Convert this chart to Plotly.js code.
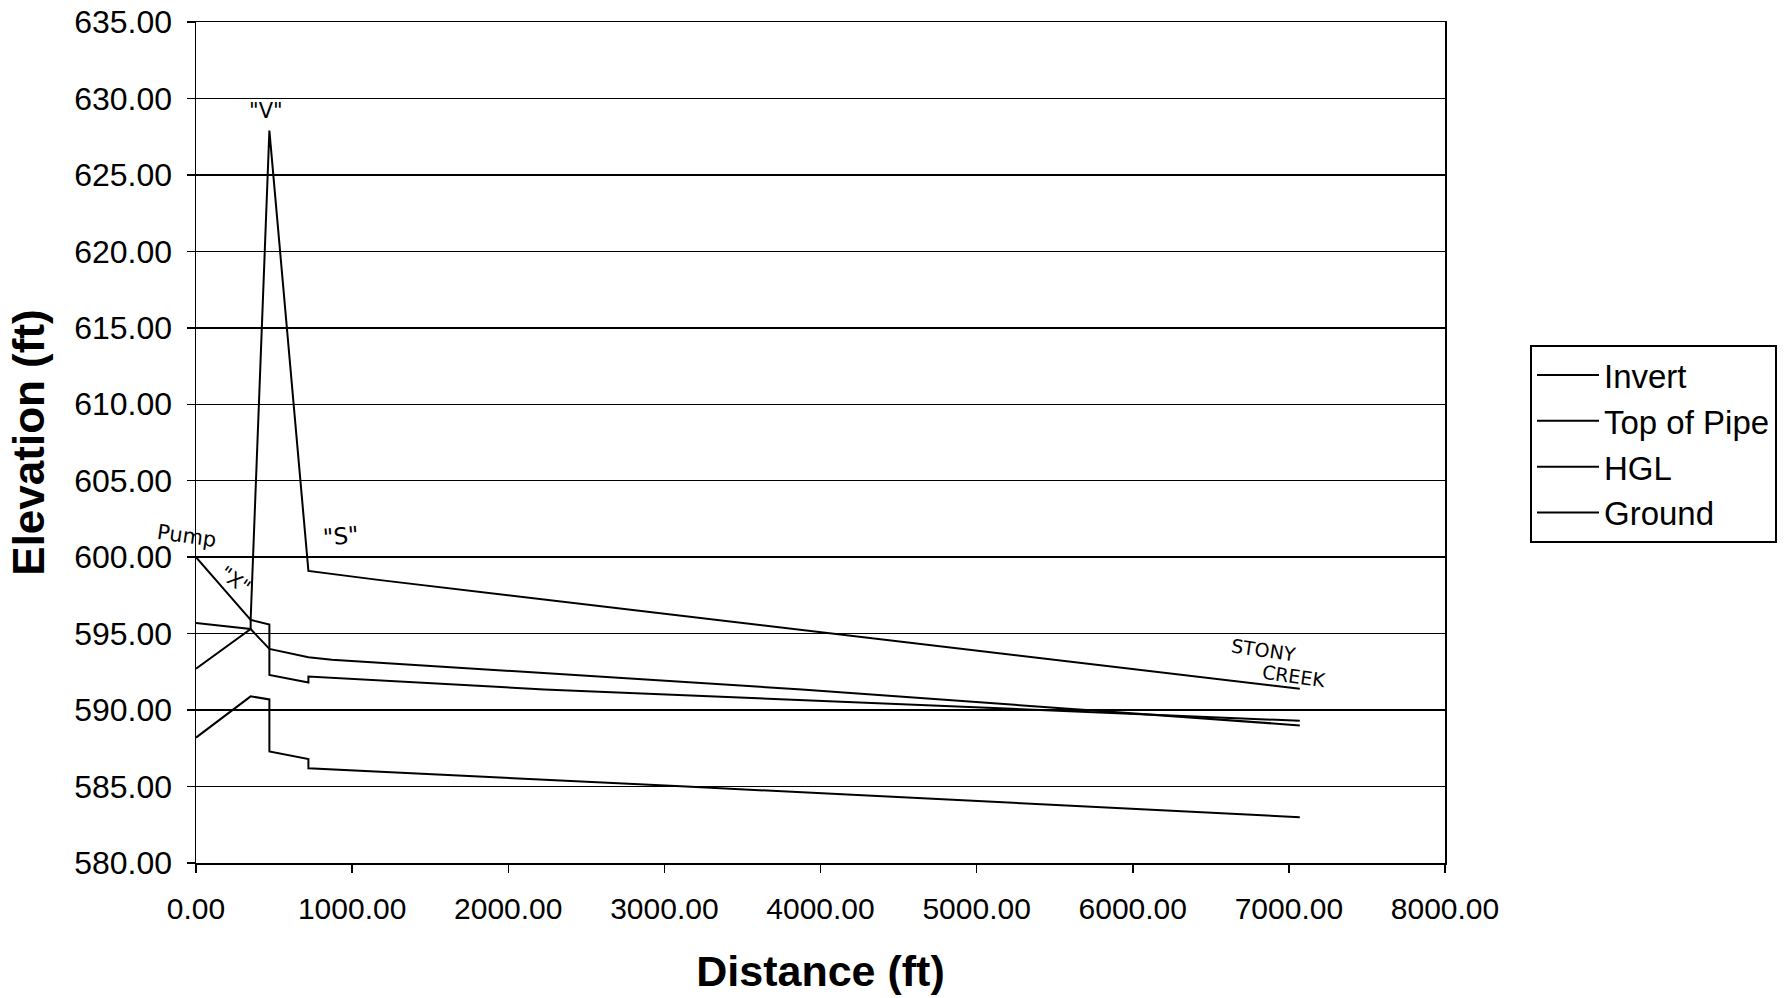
<!DOCTYPE html>
<html>
<head>
<meta charset="utf-8">
<script src="https://cdn.plot.ly/plotly-3.0.1.min.js"></script>
<style>
  html, body { margin: 0; padding: 0; background: #ffffff; }
  #chart { width: 1788px; height: 998px; }
</style>
</head>
<body>
<div id="chart"></div>
<script>
// ---- Data (distance in ft, elevation in ft) ----
const seriesNames = ["Invert", "Top of Pipe", "HGL", "Ground"];

const invertDist = [0, 350, 470, 470, 720, 720, 3140, 7070];
const invertElev = [588.2, 590.9, 590.7, 587.3, 586.8, 586.2, 585.0, 583.0];

const topDist = [0, 350, 350, 470, 470, 720, 720, 2230, 7070];
const topElev = [592.7, 595.3, 595.9, 595.6, 592.3, 591.8, 592.2, 591.35, 589.3];

const hglDist = [0, 350, 470, 720, 870, 3880, 7070];
const hglElev = [595.7, 595.3, 594.0, 593.45, 593.3, 591.35, 589.0];

const groundDist = [0, 350, 470, 720, 1180, 4090, 7070];
const groundElev = [600.0, 595.9, 627.9, 599.1, 598.5, 595.0, 591.4];

// Hand-written notes on the chart (data coordinates, "Pump" sits just left of the axis)
const noteTexts = ["\"X\"", "\"V\"", "\"S\"", "STONY", "CREEK"];
const noteX = [250, 448, 930, 6840, 7030];
const noteY = [598.5, 629.2, 601.4, 593.9, 592.2];
const noteAngle = [35, 0, -5, 8, 8];
const noteSize = [20, 21, 23, 19, 19];

const FONT = "Liberation Sans, Arial, sans-serif";
const HAND = "DejaVu Sans, sans-serif";
const lineStyle = { color: "#000000", width: 2 };

const xs = [invertDist, topDist, hglDist, groundDist];
const ys = [invertElev, topElev, hglElev, groundElev];

const traces = seriesNames.map((name, i) => ({
  type: "scatter",
  mode: "lines",
  name: name,
  x: xs[i],
  y: ys[i],
  line: lineStyle,
  legendgroup: "g" + i,
  hoverinfo: "x+y+name"
}));

const annotations = noteTexts.map((t, i) => ({
  text: t,
  x: noteX[i],
  y: noteY[i],
  xref: "x",
  yref: "y",
  showarrow: false,
  textangle: noteAngle[i],
  font: { family: HAND, size: noteSize[i], color: "#000000" }
}));
annotations.push({
  text: "Pump",
  x: -0.034,
  xref: "paper",
  y: 601.4,
  yref: "y",
  showarrow: false,
  textangle: 8,
  font: { family: HAND, size: 21, color: "#000000" }
});

const layout = {
  width: 1788,
  height: 998,
  margin: { l: 196, r: 342, t: 22, b: 135, pad: 0 },
  paper_bgcolor: "#ffffff",
  plot_bgcolor: "#ffffff",
  showlegend: true,
  font: { family: FONT, color: "#000000" },
  xaxis: {
    range: [0, 8000],
    dtick: 1000,
    tick0: 0,
    tickformat: ".2f",
    showgrid: false,
    zeroline: false,
    showline: true,
    linecolor: "#000000",
    linewidth: 1.5,
    mirror: true,
    ticks: "outside",
    ticklen: 8,
    tickwidth: 1.5,
    tickcolor: "#000000",
    ticklabelstandoff: 10,
    tickfont: { family: FONT, size: 30, color: "#000000" },
    title: { text: "<b>Distance (ft)</b>", font: { family: FONT, size: 43, color: "#000000" }, standoff: 32 }
  },
  yaxis: {
    range: [580, 635],
    dtick: 5,
    tick0: 580,
    tickformat: ".2f",
    showgrid: true,
    gridcolor: "#000000",
    gridwidth: 1.5,
    zeroline: false,
    showline: true,
    linecolor: "#000000",
    linewidth: 1.5,
    mirror: true,
    ticks: "outside",
    ticklen: 8,
    tickwidth: 1.5,
    tickcolor: "#000000",
    ticklabelstandoff: 8,
    tickfont: { family: FONT, size: 32, color: "#000000" },
    title: { text: "<b>Elevation (ft)</b>", font: { family: FONT, size: 44, color: "#000000" }, standoff: 16 }
  },
  legend: {
    x: 1.0672,
    y: 0.616,
    xanchor: "left",
    yanchor: "top",
    bgcolor: "#ffffff",
    bordercolor: "#000000",
    borderwidth: 2,
    font: { family: FONT, size: 33, color: "#000000" },
    traceorder: "grouped",
    tracegroupgap: 0,
    itemwidth: 62
  },
  annotations: annotations
};

Plotly.newPlot("chart", traces, layout, { displayModeBar: false, staticPlot: true });
</script>
</body>
</html>
